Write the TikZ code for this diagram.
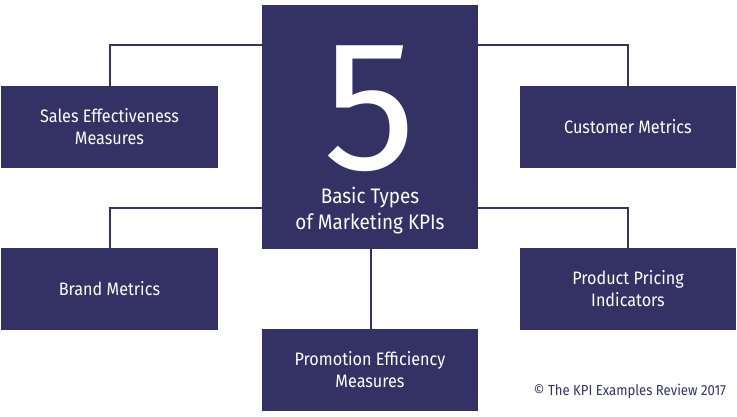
\documentclass[tikz,border=0pt]{standalone}
\usepackage{fontspec}
\setmainfont{Fira Sans}[FakeStretch=0.9]
\newfontfamily\fivefont{Fira Sans}
\definecolor{kpiblue}{HTML}{343264}
\tikzset{kpibox/.style={fill=kpiblue, text=white, minimum width=216bp, minimum height=82bp, inner sep=0pt, align=center, font=\fontsize{18bp}{22bp}\selectfont},
kpiline/.style={draw=kpiblue, line width=2bp}}
\begin{document}
\begin{tikzpicture}[x=1bp, y=-1bp]
\useasboundingbox (0, 0) rectangle (737, 416);
\node (center) at (370, 127) [fill=kpiblue, minimum width=216bp, minimum height=244bp, inner sep=0pt] {};
\node (five) at (369.5, 109) [text=white, inner sep=0pt, font=\fivefont\fontsize{185bp}{185bp}\selectfont] {5};
\node (title) at (370, 210.5) [text=white, inner sep=0pt, align=center, font=\fontsize{21bp}{26bp}\selectfont] {Basic Types\\of Marketing KPIs};
\node (sales) at (109.5, 127) [kpibox] {Sales Effectiveness\\Measures};
\node (customer) at (628, 127) [kpibox] {Customer Metrics};
\node (brand) at (109.5, 289) [kpibox] {Brand Metrics};
\node (pricing) at (628, 289) [kpibox] {Product Pricing\\Indicators};
\node (promotion) at (370, 370) [kpibox] {Promotion Efficiency\\Measures};
\node (credit) at (630, 391) [text=kpiblue, inner sep=0pt, font=\fontsize{14.6bp}{16bp}\selectfont] {© The KPI Examples Review 2017};

\draw [kpiline] (center.west |- 0, 45) -| ([xshift=.5bp]sales.north);
\draw [kpiline] (center.east |- 0, 45) -| (customer.north);
\draw [kpiline] (center.west |- 0, 208) -| ([xshift=.5bp]brand.north);
\draw [kpiline] (center.east |- 0, 208) -| (pricing.north);
\draw [kpiline] ([xshift=1bp]center.south) -- ([xshift=1bp]promotion.north);
\end{tikzpicture}
\end{document}
